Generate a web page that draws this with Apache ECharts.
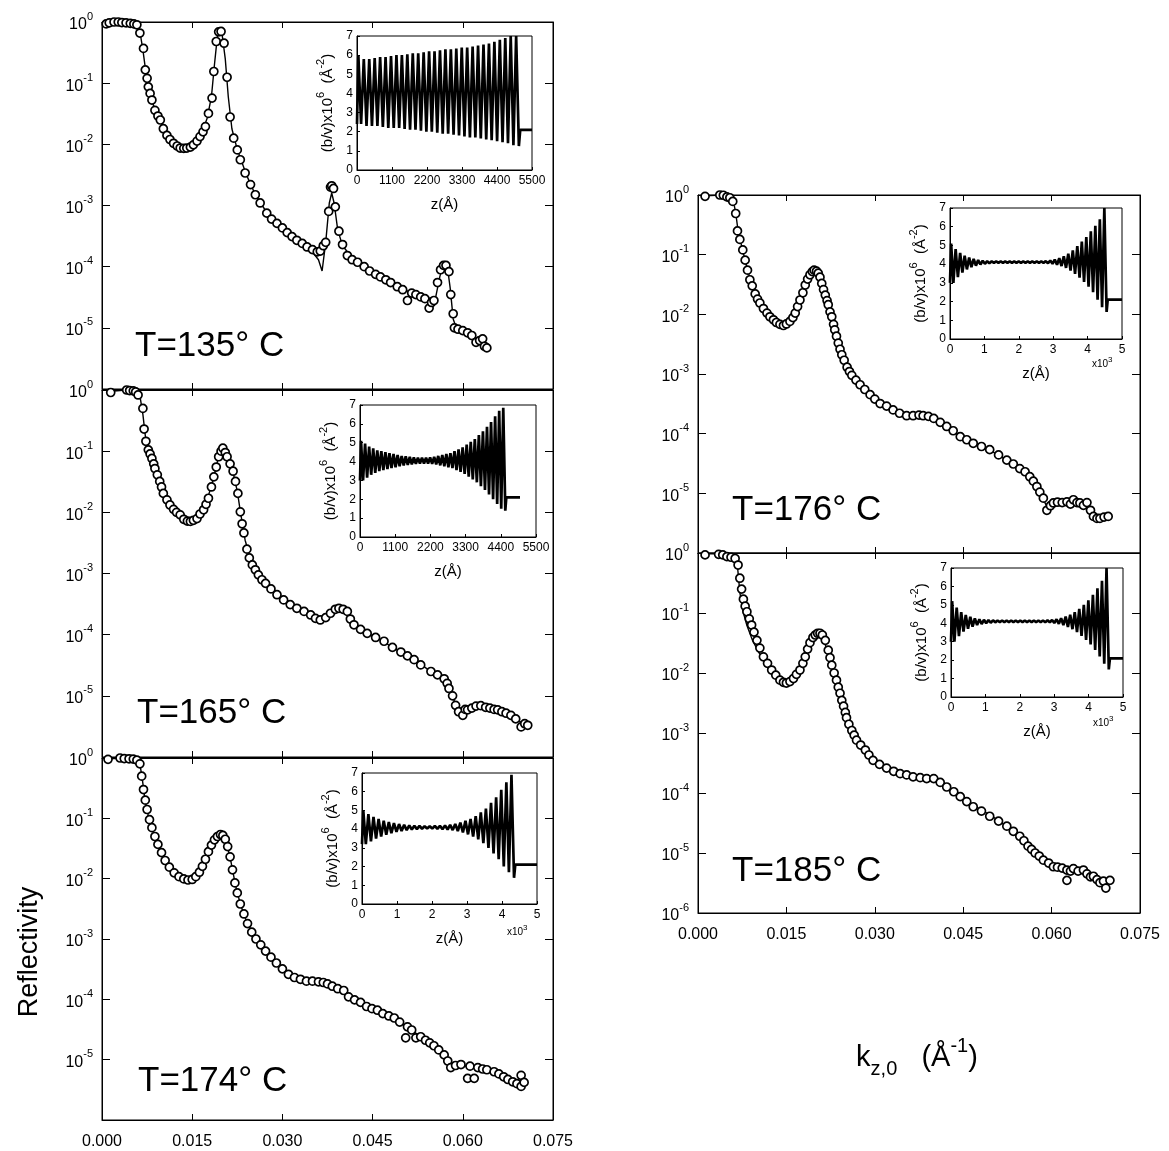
<!DOCTYPE html>
<html><head><meta charset="utf-8">
<script src="https://cdn.jsdelivr.net/npm/echarts/dist/echarts.min.js"></script>
<style>html,body{margin:0;padding:0;background:#fff}#c{width:1169px;height:1151px}</style>
</head><body><div id="c"></div>
<script>
// ---------- DATA: reflectivity [kz (1/Å), R] ----------
const data135 = [[0.0007,0.93],[0.0012,0.97],[0.0020,1.0],[0.0027,1.0],[0.0033,0.98],[0.0040,0.97],[0.0047,0.95],[0.0053,0.93],[0.0058,0.9],[0.0063,0.66],[0.0069,0.37],[0.0072,0.165],[0.0075,0.12],[0.0077,0.087],[0.0080,0.068],[0.0083,0.053],[0.0088,0.036],[0.0093,0.029],[0.0097,0.025],[0.0102,0.018],[0.0108,0.014],[0.0113,0.012],[0.0119,0.0104],[0.0125,0.0094],[0.0130,0.0087],[0.0136,0.0086],[0.0141,0.0087],[0.0147,0.009],[0.0152,0.0098],[0.0158,0.0113],[0.0163,0.0134],[0.0168,0.016],[0.0172,0.0195],[0.0177,0.032],[0.0183,0.057],[0.0186,0.155],[0.0190,0.48],[0.0194,0.69],[0.0198,0.7],[0.0203,0.45],[0.0208,0.125],[0.0213,0.028],[0.0219,0.0126],[0.0225,0.0081],[0.0230,0.0056],[0.0238,0.0034],[0.0247,0.0022],[0.0255,0.0015],[0.0263,0.0011],[0.0274,0.00075],[0.0282,0.0006],[0.0291,0.00051],[0.0300,0.00043],[0.0308,0.00036],[0.0316,0.00031],[0.0324,0.00027],[0.0333,0.00024],[0.0341,0.00021],[0.0350,0.00019],[0.0358,0.000175],[0.0363,0.00018],[0.0368,0.00022],[0.0372,0.00025],[0.0377,0.0008],[0.0380,0.002],[0.0382,0.0021],[0.0385,0.0019],[0.0388,0.00095],[0.0394,0.00038],[0.0400,0.00023],[0.0408,0.000152],[0.0416,0.00013],[0.0425,0.000118],[0.0436,0.0001],[0.0445,8.5e-5],[0.0455,7.5e-5],[0.0463,6.8e-5],[0.0472,6.1e-5],[0.0480,5.5e-5],[0.0491,4.7e-5],[0.0500,4.2e-5],[0.0508,2.8e-5],[0.0515,3.7e-5],[0.0522,3.5e-5],[0.0530,3.2e-5],[0.0537,3.0e-5],[0.0544,2.1e-5],[0.0548,2.6e-5],[0.0552,2.8e-5],[0.0558,5.5e-5],[0.0563,8.9e-5],[0.0568,1.05e-4],[0.0572,1.05e-4],[0.0577,8.3e-5],[0.0580,3.5e-5],[0.0584,1.7e-5],[0.0586,1.0e-5],[0.0592,9.5e-6],[0.0600,9.0e-6],[0.0608,8.3e-6],[0.0615,7.5e-6],[0.0622,5.8e-6],[0.0628,6.2e-6],[0.0633,6.6e-6],[0.0636,5.0e-6],[0.0640,4.7e-6]];
const fit135 = [[0.0007,0.95],[0.003,1.0],[0.0058,0.93],[0.0063,0.7],[0.0068,0.35],[0.0073,0.15],[0.0078,0.08],[0.0085,0.045],[0.0095,0.026],[0.0105,0.016],[0.0115,0.0115],[0.0125,0.0095],[0.0135,0.0088],[0.0145,0.0088],[0.0155,0.0102],[0.0165,0.0145],[0.0175,0.027],[0.0182,0.06],[0.0187,0.2],[0.0192,0.6],[0.0196,0.75],[0.0200,0.6],[0.0205,0.25],[0.0210,0.06],[0.0216,0.018],[0.0225,0.0082],[0.0240,0.0032],[0.0255,0.0015],[0.0275,0.00074],[0.0300,0.00043],[0.0325,0.00027],[0.0345,0.0002],[0.0360,0.00013],[0.0366,8.5e-5],[0.0372,2.5e-4],[0.0378,0.0011],[0.0382,0.0016],[0.0386,0.0011],[0.0392,0.0004],[0.0400,0.00022],[0.0420,0.000125],[0.0450,8e-5],[0.0480,5.5e-5],[0.0510,3.9e-5],[0.0540,3.0e-5],[0.0555,3.2e-5],[0.0562,7e-5],[0.0568,1.1e-4],[0.0574,1.05e-4],[0.0579,4.5e-5],[0.0584,1.4e-5],[0.0590,9.5e-6],[0.0610,8e-6],[0.0630,6.2e-6],[0.0640,4.8e-6]];

const data165 = [[0.00145,0.91],[0.0041,1.0],[0.0046,0.98],[0.0052,0.97],[0.0056,0.93],[0.006,0.83],[0.0068,0.5],[0.007,0.23],[0.0073,0.145],[0.0077,0.105],[0.008,0.09],[0.0083,0.076],[0.0086,0.062],[0.0088,0.052],[0.0092,0.041],[0.0096,0.032],[0.0099,0.026],[0.0102,0.0204],[0.0108,0.016],[0.0113,0.0132],[0.0119,0.0112],[0.0124,0.01],[0.013,0.0091],[0.0136,0.0077],[0.0142,0.0072],[0.0147,0.0071],[0.0152,0.0074],[0.0158,0.0079],[0.0163,0.0094],[0.0169,0.011],[0.0173,0.0135],[0.0177,0.017],[0.0182,0.026],[0.0186,0.038],[0.019,0.055],[0.0194,0.081],[0.0198,0.1],[0.0201,0.112],[0.0205,0.095],[0.0208,0.081],[0.0213,0.062],[0.0218,0.047],[0.0222,0.032],[0.0226,0.0204],[0.023,0.0102],[0.0233,0.0065],[0.0236,0.0046],[0.0241,0.0025],[0.0245,0.0018],[0.025,0.00138],[0.0255,0.00115],[0.026,0.00095],[0.0266,0.00079],[0.0272,0.00069],[0.0281,0.00056],[0.0291,0.00045],[0.0302,0.00037],[0.0313,0.00031],[0.0324,0.00027],[0.0336,0.00024],[0.0347,0.00021],[0.0355,0.000185],[0.0363,0.000174],[0.0372,0.00019],[0.038,0.000224],[0.0388,0.00026],[0.0394,0.00027],[0.0401,0.00026],[0.0408,0.00024],[0.0413,0.00018],[0.0419,0.000145],[0.043,0.000122],[0.0441,0.000105],[0.0455,9.0e-5],[0.0469,7.8e-5],[0.0483,6.2e-5],[0.0497,5.2e-5],[0.0508,4.5e-5],[0.0519,3.9e-5],[0.053,3.2e-5],[0.0547,2.5e-5],[0.0558,2.2e-5],[0.0569,1.9e-5],[0.0574,1.6e-5],[0.0577,1.32e-5],[0.0583,1.0e-5],[0.0588,7.0e-6],[0.0593,5.5e-6],[0.06,4.8e-6],[0.0604,6.0e-6],[0.0608,5.9e-6],[0.0615,6.3e-6],[0.0622,6.8e-6],[0.063,6.9e-6],[0.0638,6.5e-6],[0.0645,6.3e-6],[0.0652,6.0e-6],[0.0658,5.9e-6],[0.0665,5.5e-6],[0.0672,5.2e-6],[0.068,4.8e-6],[0.0688,4.2e-6],[0.0697,3.1e-6],[0.0703,3.5e-6],[0.0708,3.3e-6]];
const fit165 = [[0.0015,0.95],[0.004,1.0],[0.0058,0.93],[0.0064,0.7],[0.0068,0.4],[0.0072,0.18],[0.0078,0.1],[0.0085,0.063],[0.0095,0.033],[0.0105,0.018],[0.0115,0.0125],[0.0125,0.0098],[0.0135,0.0079],[0.0145,0.0071],[0.0155,0.0076],[0.0165,0.0098],[0.0175,0.016],[0.0185,0.035],[0.0193,0.075],[0.0199,0.105],[0.0204,0.1],[0.021,0.072],[0.0218,0.045],[0.0225,0.022],[0.023,0.0105],[0.0238,0.0035],[0.0248,0.0016],[0.026,0.00095],[0.0275,0.00065],[0.03,0.00038],[0.033,0.00025],[0.0355,0.00019],[0.0365,0.000172],[0.0378,0.00021],[0.039,0.000265],[0.0402,0.000255],[0.0415,0.00017],[0.043,0.000122],[0.046,8.5e-5],[0.049,5.7e-5],[0.052,3.8e-5],[0.055,2.4e-5],[0.057,1.8e-5],[0.0582,1.0e-5],[0.0592,6e-6],[0.061,6.2e-6],[0.063,6.7e-6],[0.065,6.1e-6],[0.067,5.2e-6],[0.069,4.0e-6],[0.0708,3.3e-6]];

const data174 = [[0.0010,0.95],[0.0030,1.0],[0.0037,0.98],[0.0045,0.97],[0.0052,0.96],[0.0058,0.92],[0.0063,0.8],[0.0066,0.5],[0.0069,0.3],[0.0072,0.2],[0.0075,0.14],[0.0079,0.095],[0.0083,0.07],[0.0088,0.05],[0.0093,0.037],[0.0099,0.027],[0.0105,0.02],[0.0112,0.0155],[0.012,0.0125],[0.0128,0.0108],[0.0136,0.0099],[0.0143,0.0095],[0.0150,0.0097],[0.0156,0.0108],[0.0162,0.0128],[0.0167,0.016],[0.0172,0.021],[0.0177,0.028],[0.0182,0.036],[0.0187,0.044],[0.0192,0.05],[0.0197,0.054],[0.0201,0.052],[0.0205,0.045],[0.0209,0.034],[0.0213,0.023],[0.0217,0.014],[0.0221,0.0085],[0.0225,0.0058],[0.023,0.0038],[0.0236,0.0026],[0.0242,0.0018],[0.0249,0.0013],[0.0256,0.001],[0.0264,0.0008],[0.0272,0.00063],[0.0281,0.0005],[0.029,0.0004],[0.03,0.00032],[0.031,0.00026],[0.032,0.00023],[0.033,0.000215],[0.034,0.0002],[0.035,0.0002],[0.036,0.000195],[0.0368,0.00019],[0.0375,0.00018],[0.0383,0.000165],[0.0392,0.00015],[0.0402,0.00014],[0.041,0.00011],[0.042,9.8e-5],[0.043,8.9e-5],[0.044,7.6e-5],[0.0449,7.0e-5],[0.0458,6.6e-5],[0.0467,5.8e-5],[0.0477,5.3e-5],[0.0486,4.9e-5],[0.0495,4.2e-5],[0.0505,2.3e-5],[0.0508,3.5e-5],[0.0515,3.1e-5],[0.0522,2.3e-5],[0.053,2.4e-5],[0.0538,2.1e-5],[0.0545,1.9e-5],[0.0552,1.7e-5],[0.056,1.45e-5],[0.0569,1.2e-5],[0.0575,9.5e-6],[0.058,7.4e-6],[0.0588,8.0e-6],[0.0597,8.3e-6],[0.0608,4.9e-6],[0.0612,7.8e-6],[0.0619,4.9e-6],[0.0625,7.4e-6],[0.0633,7.0e-6],[0.064,6.8e-6],[0.0652,6.3e-6],[0.066,5.8e-6],[0.0668,5.2e-6],[0.0675,4.7e-6],[0.0683,4.3e-6],[0.069,4.0e-6],[0.0697,3.6e-6],[0.0697,5.5e-6],[0.0702,4.2e-6]];
const fit174 = [[0.001,0.97],[0.004,1.0],[0.0058,0.95],[0.0063,0.8],[0.0067,0.45],[0.0071,0.22],[0.0077,0.11],[0.0085,0.06],[0.0095,0.033],[0.0107,0.019],[0.012,0.0128],[0.0135,0.0101],[0.0145,0.0096],[0.0155,0.0106],[0.0165,0.015],[0.0175,0.025],[0.0185,0.041],[0.0195,0.053],[0.0202,0.051],[0.0208,0.037],[0.0215,0.018],[0.0222,0.0078],[0.023,0.0038],[0.024,0.002],[0.0255,0.00105],[0.0275,0.0006],[0.03,0.00033],[0.032,0.00023],[0.035,0.0002],[0.0375,0.00018],[0.0395,0.00014],[0.042,9.8e-5],[0.045,6.9e-5],[0.048,5.1e-5],[0.051,3.4e-5],[0.054,2.0e-5],[0.0565,1.3e-5],[0.058,7.8e-6],[0.06,8.0e-6],[0.063,7.0e-6],[0.066,5.8e-6],[0.0685,4.3e-6],[0.0702,3.8e-6]];

const data176 = [[0.0012,0.95],[0.0037,1.0],[0.0043,0.99],[0.0049,0.93],[0.0054,0.9],[0.0059,0.78],[0.0064,0.49],[0.0067,0.25],[0.0071,0.18],[0.0076,0.12],[0.008,0.081],[0.0084,0.055],[0.0088,0.038],[0.0092,0.03],[0.0097,0.022],[0.0101,0.018],[0.0105,0.0155],[0.0111,0.0125],[0.0117,0.0105],[0.0122,0.0091],[0.0128,0.0081],[0.0133,0.0073],[0.0139,0.0068],[0.0145,0.0065],[0.015,0.0069],[0.0156,0.0076],[0.0161,0.0088],[0.0165,0.0105],[0.0169,0.0135],[0.0173,0.0174],[0.0178,0.023],[0.0182,0.031],[0.0186,0.039],[0.019,0.046],[0.0194,0.052],[0.0197,0.055],[0.0201,0.053],[0.0204,0.049],[0.0207,0.042],[0.021,0.033],[0.0213,0.026],[0.0216,0.021],[0.0219,0.017],[0.0221,0.0145],[0.0224,0.011],[0.0227,0.0091],[0.023,0.0068],[0.0232,0.0055],[0.0235,0.0043],[0.0238,0.0033],[0.0241,0.0026],[0.0244,0.0021],[0.0248,0.0017],[0.0253,0.0013],[0.0257,0.0011],[0.0261,0.00095],[0.0268,0.00079],[0.0275,0.00066],[0.0283,0.00055],[0.0292,0.00045],[0.03,0.00038],[0.0309,0.00032],[0.032,0.00029],[0.0331,0.00025],[0.0342,0.00022],[0.0354,0.0002],[0.0365,0.0002],[0.0375,0.000205],[0.0382,0.0002],[0.0391,0.000195],[0.04,0.00018],[0.0411,0.000155],[0.0422,0.000132],[0.0433,0.000112],[0.0445,8.9e-5],[0.0456,7.9e-5],[0.0467,6.9e-5],[0.0481,6.1e-5],[0.0495,5.4e-5],[0.051,4.4e-5],[0.0524,3.6e-5],[0.0535,3.1e-5],[0.0546,2.6e-5],[0.0555,2.3e-5],[0.0563,1.9e-5],[0.0569,1.6e-5],[0.0575,1.3e-5],[0.058,1.05e-5],[0.0586,8.3e-6],[0.0592,5.2e-6],[0.0598,6.2e-6],[0.0603,6.9e-6],[0.061,7.1e-6],[0.0618,7.0e-6],[0.0626,7.2e-6],[0.0632,6.6e-6],[0.0637,7.8e-6],[0.0643,7.0e-6],[0.0648,6.9e-6],[0.0654,6.3e-6],[0.066,7.0e-6],[0.0666,5.2e-6],[0.0671,4.1e-6],[0.0677,3.8e-6],[0.0682,3.8e-6],[0.0689,4.0e-6],[0.0696,4.1e-6]];
const fit176 = [[0.0012,0.97],[0.004,1.0],[0.0055,0.93],[0.006,0.8],[0.0064,0.5],[0.0068,0.25],[0.0074,0.14],[0.008,0.08],[0.009,0.034],[0.01,0.019],[0.011,0.013],[0.012,0.0095],[0.013,0.0077],[0.014,0.0067],[0.0148,0.0066],[0.0156,0.0077],[0.0165,0.011],[0.0175,0.02],[0.0185,0.038],[0.0193,0.052],[0.0199,0.055],[0.0205,0.047],[0.0212,0.028],[0.022,0.015],[0.0228,0.0078],[0.0236,0.0039],[0.0245,0.002],[0.0255,0.0012],[0.027,0.00075],[0.029,0.00047],[0.031,0.00032],[0.0335,0.00024],[0.036,0.0002],[0.038,0.0002],[0.04,0.00018],[0.0425,0.000125],[0.045,8.5e-5],[0.048,6.2e-5],[0.051,4.4e-5],[0.054,2.8e-5],[0.0565,1.8e-5],[0.058,1.05e-5],[0.0592,6.0e-6],[0.061,6.9e-6],[0.063,7.0e-6],[0.065,6.8e-6],[0.067,4.5e-6],[0.0697,4.0e-6]];

const data185 = [[0.0012,0.93],[0.0035,0.95],[0.0042,0.93],[0.0049,0.87],[0.0056,0.85],[0.0063,0.81],[0.0068,0.63],[0.0071,0.38],[0.0074,0.25],[0.0077,0.17],[0.008,0.13],[0.0083,0.105],[0.0087,0.08],[0.0091,0.063],[0.0095,0.048],[0.01,0.035],[0.0105,0.026],[0.0111,0.0186],[0.0118,0.0145],[0.0125,0.0112],[0.0132,0.0092],[0.0139,0.0076],[0.0145,0.007],[0.015,0.0068],[0.0156,0.0072],[0.0162,0.0081],[0.0167,0.0095],[0.0173,0.0112],[0.0178,0.0145],[0.0182,0.0186],[0.0186,0.025],[0.019,0.032],[0.0195,0.039],[0.0199,0.043],[0.0203,0.046],[0.0207,0.046],[0.0211,0.043],[0.0216,0.035],[0.0221,0.024],[0.0224,0.018],[0.0227,0.0135],[0.0231,0.01],[0.0235,0.0076],[0.0238,0.0058],[0.0241,0.0046],[0.0244,0.0035],[0.0247,0.0028],[0.025,0.0022],[0.0252,0.0018],[0.0256,0.0014],[0.0261,0.0011],[0.0265,0.00092],[0.0269,0.00076],[0.0276,0.00063],[0.0284,0.00052],[0.029,0.00043],[0.0297,0.00035],[0.0308,0.0003],[0.032,0.00026],[0.0332,0.00023],[0.0343,0.00021],[0.0354,0.0002],[0.0365,0.000186],[0.0377,0.00018],[0.0388,0.000174],[0.04,0.000174],[0.0411,0.00015],[0.0422,0.000126],[0.0434,0.000105],[0.0445,8.7e-5],[0.0456,7.2e-5],[0.0467,5.9e-5],[0.0481,5.0e-5],[0.0495,4.1e-5],[0.051,3.4e-5],[0.0524,2.8e-5],[0.0535,2.3e-5],[0.0546,1.9e-5],[0.0553,1.6e-5],[0.056,1.3e-5],[0.0566,1.15e-5],[0.0572,1.0e-5],[0.0579,8.9e-6],[0.0586,7.6e-6],[0.0595,6.8e-6],[0.0603,5.9e-6],[0.061,5.8e-6],[0.0618,5.6e-6],[0.0626,5.2e-6],[0.0626,3.5e-6],[0.0632,5.0e-6],[0.0637,5.5e-6],[0.0645,5.0e-6],[0.0654,5.2e-6],[0.066,4.5e-6],[0.0666,4.0e-6],[0.0671,4.1e-6],[0.0677,3.6e-6],[0.0682,3.2e-6],[0.0688,3.4e-6],[0.0692,2.6e-6],[0.0699,3.5e-6]];
const fit185 = [[0.0012,0.97],[0.004,0.97],[0.0063,0.9],[0.0067,0.6],[0.0071,0.22],[0.0076,0.11],[0.0083,0.062],[0.0092,0.036],[0.0102,0.023],[0.0115,0.0145],[0.0128,0.0095],[0.014,0.0073],[0.015,0.0068],[0.016,0.0078],[0.017,0.0105],[0.018,0.0175],[0.019,0.031],[0.0198,0.042],[0.0205,0.046],[0.0212,0.04],[0.022,0.022],[0.0228,0.011],[0.0236,0.0065],[0.0245,0.0033],[0.0255,0.0016],[0.0268,0.00085],[0.028,0.00056],[0.03,0.00036],[0.0325,0.00025],[0.035,0.0002],[0.038,0.00018],[0.04,0.000172],[0.042,0.00013],[0.045,7.8e-5],[0.048,5.3e-5],[0.051,3.5e-5],[0.054,2.1e-5],[0.057,1.1e-5],[0.06,6.5e-6],[0.063,5.2e-6],[0.066,4.6e-6],[0.068,3.6e-6],[0.07,3.4e-6]];

// ---------- DATA: scattering-length-density profiles (insets) ----------
const sld135Hi = [6.0,5.8,5.8,5.85,5.9,5.9,5.95,6.0,6.0,6.05,6.1,6.1,6.15,6.2,6.2,6.25,6.3,6.3,6.35,6.4,6.4,6.45,6.5,6.55,6.6,6.7,6.8,6.9,7.0,7.0];
const sld135Lo = [2.4,2.3,2.3,2.3,2.25,2.2,2.2,2.2,2.15,2.1,2.1,2.05,2.0,2.0,1.95,1.9,1.9,1.85,1.8,1.75,1.7,1.7,1.65,1.6,1.55,1.5,1.45,1.4,1.3,1.25];
const sld135Period = 171;
const sld165Hi = [5.1,4.95,4.8,4.7,4.6,4.55,4.5,4.45,4.4,4.35,4.3,4.28,4.25,4.22,4.2,4.2,4.2,4.22,4.25,4.3,4.35,4.4,4.45,4.55,4.65,4.75,4.9,5.05,5.2,5.4,5.6,5.85,6.1,6.4,6.7,6.85];
const sld165Lo = [3.0,3.15,3.3,3.4,3.5,3.55,3.6,3.65,3.7,3.75,3.8,3.82,3.85,3.88,3.9,3.9,3.9,3.88,3.85,3.8,3.75,3.7,3.65,3.55,3.45,3.35,3.2,3.05,2.9,2.7,2.5,2.25,2.0,1.75,1.5,1.4];
const sld165Period = 127;
const sld174Hi = [5.0,4.8,4.65,4.55,4.45,4.38,4.32,4.27,4.23,4.2,4.18,4.17,4.16,4.16,4.17,4.18,4.2,4.23,4.28,4.35,4.45,4.55,4.7,4.9,5.1,5.4,5.7,6.1,6.5,6.9];
const sld174Lo = [3.2,3.35,3.5,3.6,3.7,3.78,3.85,3.9,3.95,3.98,4.0,4.02,4.03,4.03,4.02,4.0,3.98,3.95,3.9,3.82,3.72,3.6,3.45,3.25,3.0,2.7,2.4,2.0,1.7,1.4];
const sld174Period = 146;
const sld176Hi = [5.1,4.8,4.6,4.45,4.35,4.28,4.22,4.18,4.16,4.15,4.15,4.15,4.15,4.15,4.15,4.15,4.15,4.15,4.15,4.15,4.15,4.16,4.19,4.24,4.32,4.42,4.56,4.74,4.96,5.2,5.45,5.75,6.05,6.4,7.0];
const sld176Lo = [3.0,3.3,3.55,3.72,3.84,3.92,3.98,4.02,4.05,4.07,4.07,4.07,4.07,4.07,4.07,4.07,4.07,4.07,4.07,4.07,4.07,4.05,4.02,3.97,3.9,3.8,3.65,3.48,3.28,3.05,2.8,2.5,2.1,1.7,1.45];
const sld176Period = 131;
const sld185Hi = [5.2,4.85,4.6,4.45,4.35,4.27,4.22,4.19,4.17,4.16,4.15,4.15,4.15,4.15,4.15,4.15,4.15,4.15,4.15,4.15,4.15,4.16,4.18,4.22,4.28,4.36,4.46,4.6,4.78,5.0,5.25,5.55,5.9,6.3,7.0];
const sld185Lo = [3.0,3.3,3.55,3.7,3.82,3.9,3.96,4.0,4.03,4.05,4.06,4.06,4.06,4.06,4.06,4.06,4.06,4.06,4.06,4.06,4.06,4.05,4.02,3.97,3.9,3.8,3.68,3.52,3.32,3.1,2.85,2.55,2.2,1.8,1.5];
const sld185Period = 132;
const substrateSLD = 2.1;

// ---------- tick labels ----------
const kzTicks = [0, 0.015, 0.030, 0.045, 0.060, 0.075];
const zTicksA = [0, 1100, 2200, 3300, 4400, 5500];
const zTicksB = [0, 1000, 2000, 3000, 4000, 5000];

// ---------- layout ----------
const FONT = '"Liberation Sans", Arial, Helvetica, sans-serif';
const mainDefs = [
  {data:data135, fit:fit135, grid:{left:102,top:22,width:451,height:367}, yShow:[0,-1,-2,-3,-4,-5], xLab:false, label:'T=135° C', lx:135, ly:346},
  {data:data165, fit:fit165, grid:{left:102,top:390,width:451,height:367}, yShow:[0,-1,-2,-3,-4,-5], xLab:false, label:'T=165° C', lx:137, ly:713},
  {data:data174, fit:fit174, grid:{left:102,top:758,width:451,height:362}, yShow:[0,-1,-2,-3,-4,-5], xLab:true, label:'T=174° C', lx:138, ly:1081},
  {data:data176, fit:fit176, grid:{left:698,top:195,width:442,height:358}, yShow:[0,-1,-2,-3,-4,-5], xLab:false, label:'T=176° C', lx:732, ly:510},
  {data:data185, fit:fit185, grid:{left:698,top:553,width:442,height:360}, yShow:[0,-1,-2,-3,-4,-5,-6], xLab:true, label:'T=185° C', lx:732, ly:871}
];
const insetDefs = [
  {hi:sld135Hi, lo:sld135Lo, d:sld135Period, subEnd:5500, ticks:zTicksA, k:false, grid:{left:357,top:36,width:175,height:134}},
  {hi:sld165Hi, lo:sld165Lo, d:sld165Period, subEnd:5000, ticks:zTicksA, k:false, grid:{left:360,top:405,width:176,height:132}},
  {hi:sld174Hi, lo:sld174Lo, d:sld174Period, subEnd:5000, ticks:zTicksB, k:true, kdy:20, grid:{left:362,top:773,width:175,height:131}},
  {hi:sld176Hi, lo:sld176Lo, d:sld176Period, subEnd:5000, ticks:zTicksB, k:true, kdy:17, grid:{left:950,top:208,width:172,height:131}},
  {hi:sld185Hi, lo:sld185Lo, d:sld185Period, subEnd:5000, ticks:zTicksB, k:true, kdy:18, grid:{left:951,top:568,width:172,height:129}}
];

function profile(hi, lo, d, subEnd) {
  const pts = [[0, lo[0]]];
  for (let i = 0; i < hi.length; i++) {
    pts.push([i * d + d * 0.25, hi[i]]);
    pts.push([i * d + d * 0.75, lo[i]]);
  }
  const end = hi.length * d;
  pts.push([end, substrateSLD]);
  pts.push([subEnd, substrateSLD]);
  return pts;
}

const grids = [], xAxes = [], yAxes = [], series = [], graphics = [];
const black = '#000';
const supRich = {
  b: {fontSize: 16, fontFamily: FONT, color: black, verticalAlign: 'bottom', padding: [6, 0, 0, 0]},
  s: {fontSize: 11, fontFamily: FONT, color: black, verticalAlign: 'top'}
};

mainDefs.forEach((p) => {
  const g = grids.length;
  grids.push(Object.assign({show: true, borderColor: black, borderWidth: 1, backgroundColor: 'transparent', containLabel: false, outerBoundsMode: 'none'}, p.grid));
  const xi = xAxes.length;
  xAxes.push({
    type: 'value', gridIndex: g, min: kzTicks[0], max: kzTicks[kzTicks.length - 1], interval: kzTicks[1] - kzTicks[0], position: 'bottom',
    axisLine: {show: true, onZero: false, lineStyle: {color: black, width: 1}},
    axisTick: {show: true, inside: true, length: 6, lineStyle: {color: black}},
    splitLine: {show: false},
    axisLabel: {show: p.xLab, color: black, fontSize: 16, fontFamily: FONT, margin: 14, formatter: (v) => v.toFixed(3), hideOverlap: false}
  });
  xAxes.push({
    type: 'value', gridIndex: g, min: kzTicks[0], max: kzTicks[kzTicks.length - 1], interval: kzTicks[1] - kzTicks[0], position: 'top',
    axisLine: {show: true, onZero: false, lineStyle: {color: black}},
    axisTick: {show: true, inside: true, length: 6, lineStyle: {color: black}},
    splitLine: {show: false}, axisLabel: {show: false}
  });
  const yi = yAxes.length;
  const show = p.yShow;
  yAxes.push({
    type: 'log', logBase: 10, gridIndex: g, min: 1e-6, max: 1, splitNumber: 6, position: 'left',
    axisLine: {show: true, onZero: false, lineStyle: {color: black, width: 1}},
    axisTick: {show: true, inside: true, length: 8, lineStyle: {color: black}},
    minorTick: {show: false}, splitLine: {show: false},
    axisLabel: {
      color: black, margin: 9, hideOverlap: false, showMinLabel: true, showMaxLabel: true,
      formatter: (v) => {
        const e = Math.round(Math.log10(v));
        if (show.indexOf(e) < 0) return '';
        return '{b|10}{s|' + (e === 0 ? '0' : '-' + (-e)) + '}';
      },
      rich: supRich
    }
  });
  yAxes.push({
    type: 'log', logBase: 10, gridIndex: g, min: 1e-6, max: 1, splitNumber: 6, position: 'right',
    axisLine: {show: true, onZero: false, lineStyle: {color: black}},
    axisTick: {show: true, inside: true, length: 8, lineStyle: {color: black}},
    minorTick: {show: false}, splitLine: {show: false}, axisLabel: {show: false}
  });
  series.push({
    type: 'line', xAxisIndex: xi, yAxisIndex: yi, data: p.fit, showSymbol: false, symbol: 'none',
    lineStyle: {color: black, width: 1.4}, z: 2, animation: false, silent: true
  });
  series.push({
    type: 'scatter', xAxisIndex: xi, yAxisIndex: yi, data: p.data, symbol: 'circle', symbolSize: 8,
    itemStyle: {color: '#fff', borderColor: black, borderWidth: 1.7, opacity: 1}, z: 3, animation: false, silent: true
  });
  graphics.push({
    type: 'text', x: p.lx, y: p.ly, z: 50,
    style: {text: p.label, fill: black, font: '35px ' + FONT, textAlign: 'left', textVerticalAlign: 'middle'}
  });
});

insetDefs.forEach((p) => {
  const g = grids.length;
  grids.push(Object.assign({show: true, borderColor: black, borderWidth: 1, backgroundColor: '#fff', containLabel: false, outerBoundsMode: 'none', z: 5}, p.grid));
  const xi = xAxes.length;
  const step = p.ticks[1] - p.ticks[0];
  xAxes.push({
    type: 'value', gridIndex: g, min: p.ticks[0], max: p.ticks[p.ticks.length - 1], interval: step, z: 6,
    axisLine: {show: true, onZero: false, lineStyle: {color: black}},
    axisTick: {show: true, inside: true, length: 3, lineStyle: {color: black}},
    splitLine: {show: false},
    axisLabel: {color: black, fontSize: 12, fontFamily: FONT, margin: 5, hideOverlap: false,
      formatter: (v) => p.k ? String(Math.round(v / 1000)) : String(v)},
    name: 'z(Å)', nameLocation: 'middle', nameGap: 27,
    nameTextStyle: {color: black, fontSize: 15, fontFamily: FONT}
  });
  const yi = yAxes.length;
  yAxes.push({
    type: 'value', gridIndex: g, min: 0, max: 7, interval: 1, z: 6,
    axisLine: {show: true, onZero: false, lineStyle: {color: black}},
    axisTick: {show: true, inside: true, length: 3, lineStyle: {color: black}},
    splitLine: {show: false},
    axisLabel: {color: black, fontSize: 12, fontFamily: FONT, margin: 4, hideOverlap: false},
    name: '{a|(b/v)x10}{s|6}{a|  (Å}{s|-2}{a|)}', nameLocation: 'middle', nameGap: 22, nameRotate: 90,
    nameTextStyle: {
      rich: {
        a: {fontSize: 15, fontFamily: FONT, color: black, verticalAlign: 'bottom', padding: [5, 0, 0, 0]},
        s: {fontSize: 11, fontFamily: FONT, color: black, verticalAlign: 'top'}
      }
    }
  });
  series.push({
    type: 'line', xAxisIndex: xi, yAxisIndex: yi, data: profile(p.hi, p.lo, p.d, p.subEnd),
    showSymbol: false, symbol: 'none', lineStyle: {color: black, width: 2.7}, z: 7, animation: false, silent: true
  });
  if (p.k) {
    graphics.push({
      type: 'text', x: p.grid.left + p.grid.width - 30, y: p.grid.top + p.grid.height + p.kdy, z: 50,
      style: {text: '{a|x10}{s|3}', fill: black,
        rich: {a: {fontSize: 10, fontFamily: FONT, color: black, verticalAlign: 'bottom', padding: [3, 0, 0, 0]},
               s: {fontSize: 8, fontFamily: FONT, color: black, verticalAlign: 'top'}},
        textAlign: 'left', textVerticalAlign: 'top'}
    });
  }
});

graphics.push({
  type: 'text', x: 30, y: 952, rotation: Math.PI / 2, z: 50,
  style: {text: 'Reflectivity', fill: black, font: '27px ' + FONT, textAlign: 'center', textVerticalAlign: 'middle'}
});
graphics.push({
  type: 'text', x: 917, y: 1058, z: 50,
  style: {
    text: '{a|k}{b|z,0}{a|   (Å}{c|-1}{a|)}', fill: black, textAlign: 'center', textVerticalAlign: 'middle',
    rich: {
      a: {fontSize: 29, fontFamily: FONT, color: black, verticalAlign: 'bottom', padding: [7, 0, 7, 0]},
      b: {fontSize: 20, fontFamily: FONT, color: black, verticalAlign: 'bottom'},
      c: {fontSize: 20, fontFamily: FONT, color: black, verticalAlign: 'top'}
    }
  }
});

const chart = echarts.init(document.getElementById('c'), null, {renderer: 'canvas'});
chart.setOption({
  backgroundColor: '#fff',
  animation: false,
  textStyle: {fontFamily: FONT, color: black},
  grid: grids,
  xAxis: xAxes,
  yAxis: yAxes,
  series: series,
  graphic: graphics
});
</script></body></html>
